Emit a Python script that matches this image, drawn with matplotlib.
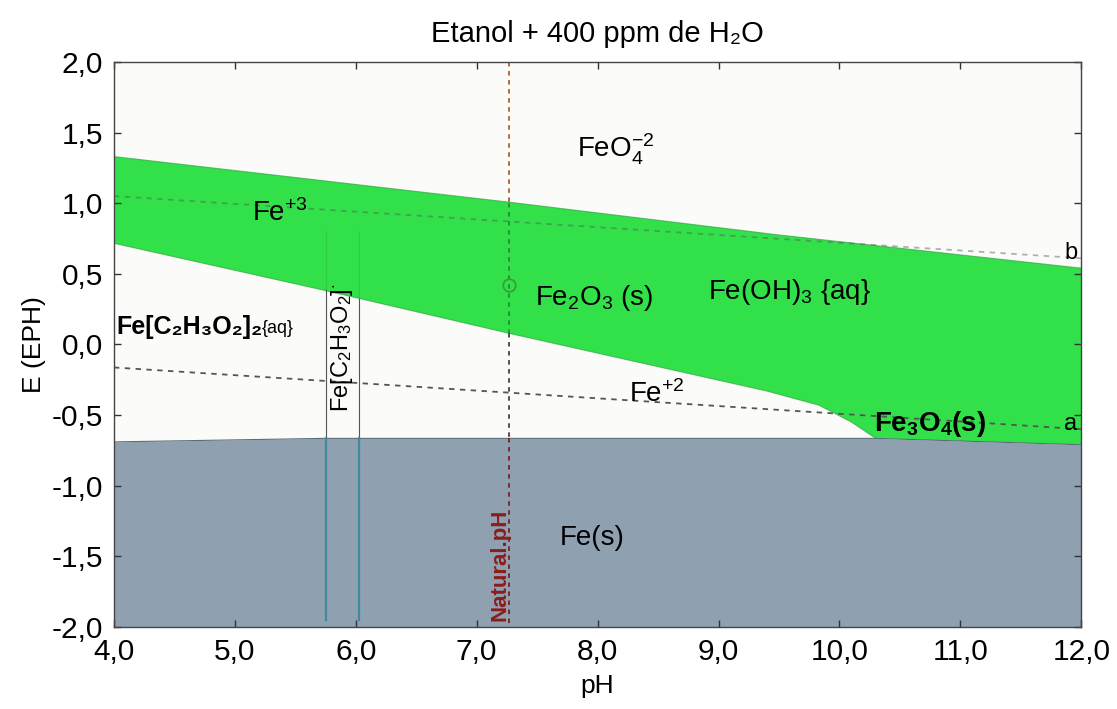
import numpy as np
import matplotlib
matplotlib.use("Agg")
import matplotlib.pyplot as plt

plt.rcParams['font.family'] = ['Liberation Sans', 'DejaVu Sans']
plt.rcParams['mathtext.fontset'] = 'custom'
plt.rcParams['mathtext.rm'] = 'Liberation Sans'
plt.rcParams['mathtext.it'] = 'Liberation Sans:italic'
plt.rcParams['mathtext.bf'] = 'Liberation Sans:bold'

# ---- data ----
title = "Etanol + 400 ppm de H\u2082O"
x_ticks = [4, 5, 6, 7, 8, 9, 10, 11, 12]
x_ticklabels = ["4,0", "5,0", "6,0", "7,0", "8,0", "9,0", "10,0", "11,0", "12,0"]
y_ticks = [-2.0, -1.5, -1.0, -0.5, 0.0, 0.5, 1.0, 1.5, 2.0]
y_ticklabels = ["-2,0", "-1,5", "-1,0", "-0,5", "0,0", "0,5", "1,0", "1,5", "2,0"]

# upper boundary of the green (Fe(III)) domain
ph_top = [4.0, 7.27, 9.5, 12.0]
e_top = [1.33, 1.007, 0.775, 0.54]
# lower boundary of the green domain (Fe+2 / Fe3O4 side)
ph_low = [4.0, 5.74, 7.27, 9.4, 9.83, 10.1, 10.3]
e_low = [0.716, 0.383, 0.078, -0.33, -0.43, -0.55, -0.665]
# top of the Fe(s) domain
ph_fe = [4.0, 5.74, 10.3, 12.0]
e_fe = [-0.69, -0.665, -0.665, -0.71]
# water lines a and b
ph_ab = [4.0, 12.0]
e_a = [-0.163, -0.60]
e_b = [1.05, 0.61]
# natural pH and acetate boundaries
natural_ph = 7.27
natural_point_e = 0.42
acetate_ph = [5.75, 6.03]
acetate_top = [0.383, 0.32]

green = '#32e14a'
gray = '#8fa0b0'

fig = plt.figure(figsize=(11.17, 7.09), dpi=100)
fig.patch.set_facecolor('white')
ax = fig.add_axes([0.102, 0.1157, 0.866, 0.797])
ax.set_facecolor('#fbfbf9')
ax.set_xlim(4, 12)
ax.set_ylim(-2, 2)

# green domain polygon
poly_x = ph_top + [12.0] + ph_low[::-1]
poly_y = e_top + [e_fe[-1]] + e_low[::-1]
ax.fill(poly_x, poly_y, color=green, lw=0, zorder=1)
ax.plot(ph_top, e_top, color='#2a9a3a', lw=0.8, alpha=0.6, zorder=2)
ax.plot(ph_low, e_low, color='#2a9a3a', lw=0.8, alpha=0.6, zorder=2)

# Fe(s) domain
ax.fill_between(ph_fe, e_fe, -2, color=gray, lw=0, zorder=1)
ax.plot(ph_fe, e_fe, color='#5a6e78', lw=0.8, zorder=2)

# water lines
ax.plot(ph_ab, e_a, color='#555555', lw=1.3, ls=(0, (3, 3)), zorder=3)
ax.plot(ph_ab, e_b, color='#555555', lw=1.3, ls=(0, (3, 3)), alpha=0.45, zorder=3)

# acetate vertical boundaries
for xv, yt in zip(acetate_ph, acetate_top):
    ax.plot([xv, xv], [yt, e_fe[1]], color='#555555', lw=0.8, zorder=3)
    ax.plot([xv, xv], [e_fe[1], -1.95], color='#3f8c98', lw=1.6, zorder=3)
    ax.plot([xv, xv], [yt, 0.8], color='#2aa040', lw=0.8, alpha=0.35, zorder=2)

# natural pH line
ax.plot([natural_ph, natural_ph], [2.0, 1.0], color='#b0602a', lw=1.3, ls=(0, (2.5, 2.5)), zorder=4)
ax.plot([natural_ph, natural_ph], [1.0, 0.08], color='#2a8a3a', lw=1.3, ls=(0, (2.5, 2.5)), zorder=4)
ax.plot([natural_ph, natural_ph], [0.08, -0.66], color='#444444', lw=1.3, ls=(0, (2.5, 2.5)), zorder=4)
ax.plot([natural_ph, natural_ph], [-0.66, -2.0], color='#7a2020', lw=1.3, ls=(0, (2.5, 2.5)), zorder=4)
ax.plot([natural_ph], [natural_point_e], marker='o', ms=9, mfc='none', mec='#3a9a3a', mew=1.2, zorder=5)

# labels
fs = 20
ax.text(7.83, 1.38, r'FeO$_4^{-2}$', fontsize=fs, va='center', ha='left', zorder=6)
ax.text(5.14, 0.93, r'Fe$^{+3}$', fontsize=fs, va='center', ha='left', zorder=6)
ax.text(7.48, 0.33, r'Fe$_2$O$_3$ (s)', fontsize=fs, va='center', ha='left', zorder=6)
ax.text(8.91, 0.37, r'Fe(OH)$_3$ {aq}', fontsize=fs, va='center', ha='left', zorder=6)
ax.text(8.26, -0.35, r'Fe$^{+2}$', fontsize=fs, va='center', ha='left', zorder=6)
ax.text(10.29, -0.56, r'$\mathbf{Fe_3O_4(s)}$', fontsize=fs, va='center', ha='left', zorder=6)
ax.text(11.86, -0.565, 'a', fontsize=17, va='center', ha='left', zorder=6)
ax.text(11.86, 0.645, 'b', fontsize=17, va='center', ha='left', zorder=6)
ax.text(7.69, -1.37, 'Fe(s)', fontsize=fs, va='center', ha='left', zorder=6)
ax.text(4.02, 0.12, 'Fe[C\u2082H\u2083O\u2082]\u2082', fontsize=18, fontweight='bold',
        va='center', ha='left', zorder=6)
ax.text(5.22, 0.11, '{aq}', fontsize=13, va='center', ha='left', zorder=6)
ax.text(5.89, -0.02, r'Fe[C$_2$H$_3$O$_2$]$^{\cdot}$', fontsize=17, rotation=90,
        va='center', ha='center', zorder=6)
ax.text(7.19, -1.56, 'Natural.pH', fontsize=16, rotation=90, color='#8b1c1c',
        va='center', ha='center', fontweight='bold', zorder=6)

ax.set_xticks(x_ticks)
ax.set_xticklabels(x_ticklabels)
ax.set_yticks(y_ticks)
ax.set_yticklabels(y_ticklabels)
ax.tick_params(direction='in', length=5, width=1, labelsize=21.5, top=True, right=True,
               color='#333333', pad=8)
for s in ax.spines.values():
    s.set_color('#444444')
    s.set_linewidth(1.0)
    s.set_zorder(7)

ax.set_title(title, fontsize=21, pad=14)
ax.set_xlabel('pH', fontsize=19, labelpad=6)
ax.set_ylabel('E (EPH)', fontsize=19, labelpad=4)

fig.savefig('out.png', dpi=100)
